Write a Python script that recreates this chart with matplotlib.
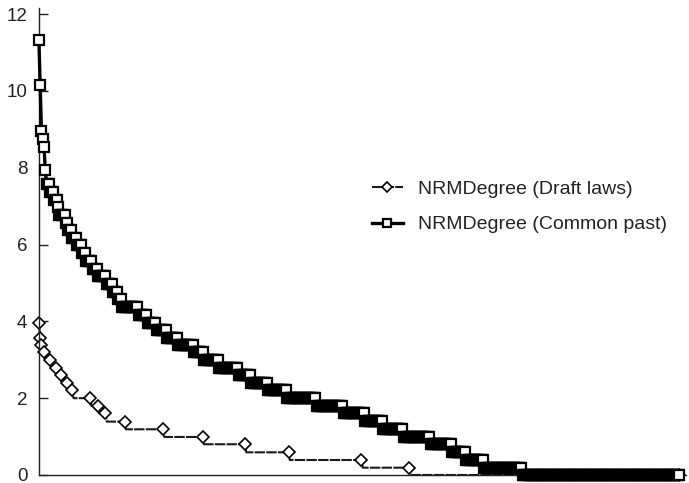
#!/usr/bin/env python3
"""Rank-ordered NRMDegree for the two networks (Draft laws vs Common past)."""

import numpy as np
import matplotlib
matplotlib.use("Agg")
import matplotlib.pyplot as plt
from matplotlib.ticker import NullLocator

# ==================== Data ====================
# Each series is a sorted (descending) list of node values. Stored as the
# distinct levels and the rank index of the last node at each level.
DRAFT_LEVELS = [3.97, 3.58, 3.38, 3.19, 2.99, 2.79, 2.60, 2.40, 2.20, 2.00,
                1.80, 1.61, 1.39, 1.19, 0.99, 0.80, 0.59, 0.39, 0.19, 0.00]
DRAFT_LAST_RANK = [0, 1, 2, 4, 9, 13, 17, 22, 26, 40,
                   46, 52, 67, 97, 128, 161, 195, 252, 289, 500]

COMMON_LEVELS = [11.33, 10.15, 8.95, 8.75, 8.55, 7.95, 7.57, 7.37, 7.17, 6.97,
                 6.77, 6.57, 6.37, 6.18, 5.98, 5.78, 5.57, 5.37, 5.18, 4.97,
                 4.77, 4.57, 4.37, 4.17, 3.97, 3.78, 3.58, 3.39, 3.20, 2.99,
                 2.79, 2.60, 2.40, 2.21, 2.01, 1.80, 1.61, 1.41, 1.20, 1.00,
                 0.81, 0.60, 0.39, 0.19, 0.00]
COMMON_LAST_RANK = [0, 1, 2, 3, 4, 5, 8, 11, 14, 15,
                    20, 22, 25, 29, 33, 36, 41, 45, 52, 57,
                    61, 64, 77, 84, 91, 99, 108, 120, 128, 140,
                    155, 165, 178, 193, 216, 237, 254, 268, 284, 305,
                    322, 333, 347, 377, 500]

DRAFT_LABEL = "NRMDegree (Draft laws)"
COMMON_LABEL = "NRMDegree (Common past)"
Y_TICKS = [0, 2, 4, 6, 8, 10, 12]

# ==================== Style ====================
FIGURE_SIZE = (6.89, 4.83)
DPI = 100
FONT = ["Liberation Sans", "DejaVu Sans"]
AXIS_COLOR = "#222222"


def expand(levels, last_rank):
    """Turn (level, last rank) pairs into one value per node."""
    counts = np.diff([-1] + list(last_rank))
    return np.repeat(levels, counts)


def main():
    plt.rcParams["font.family"] = FONT

    draft = expand(DRAFT_LEVELS, DRAFT_LAST_RANK)
    common = expand(COMMON_LEVELS, COMMON_LAST_RANK)
    ranks_draft = np.arange(len(draft))
    ranks_common = np.arange(len(common))

    fig = plt.figure(figsize=FIGURE_SIZE, dpi=DPI)
    ax = fig.add_axes([0.0559, 0.0166, 0.9397, 0.9668])

    ax.plot(ranks_draft, draft, color="#1a1a1a", lw=1.5, ls=(0, (5, 0.6)),
            marker="D", ms=6.2, mfc="white", mec="black", mew=1.2,
            markevery=DRAFT_LAST_RANK, label=DRAFT_LABEL, clip_on=False, zorder=2)
    ax.plot(ranks_common, common, color="black", lw=2.4,
            marker="s", ms=6.8, mfc="white", mec="black", mew=1.6,
            label=COMMON_LABEL, clip_on=False, zorder=3)

    ax.set_xlim(-0.3, 505.5)
    ax.set_ylim(0, 12.16)
    ax.set_yticks(Y_TICKS)
    ax.xaxis.set_major_locator(NullLocator())

    for side in ("top", "right"):
        ax.spines[side].set_visible(False)
    for side in ("left", "bottom"):
        ax.spines[side].set_color(AXIS_COLOR)
        ax.spines[side].set_linewidth(1.0)

    ax.tick_params(axis="y", direction="in", length=6.5, width=1.0,
                   color=AXIS_COLOR, pad=8, labelsize=13.5, labelcolor="#222222")

    leg = fig.legend(loc="center left", bbox_to_anchor=(0.514, 0.5714),
                     frameon=False, fontsize=14, handlelength=1.6,
                     handletextpad=0.77, labelspacing=0.9, markerscale=0.75)
    for text in leg.get_texts():
        text.set_color("#222222")

    fig.savefig("out.png", dpi=DPI)


if __name__ == "__main__":
    main()
